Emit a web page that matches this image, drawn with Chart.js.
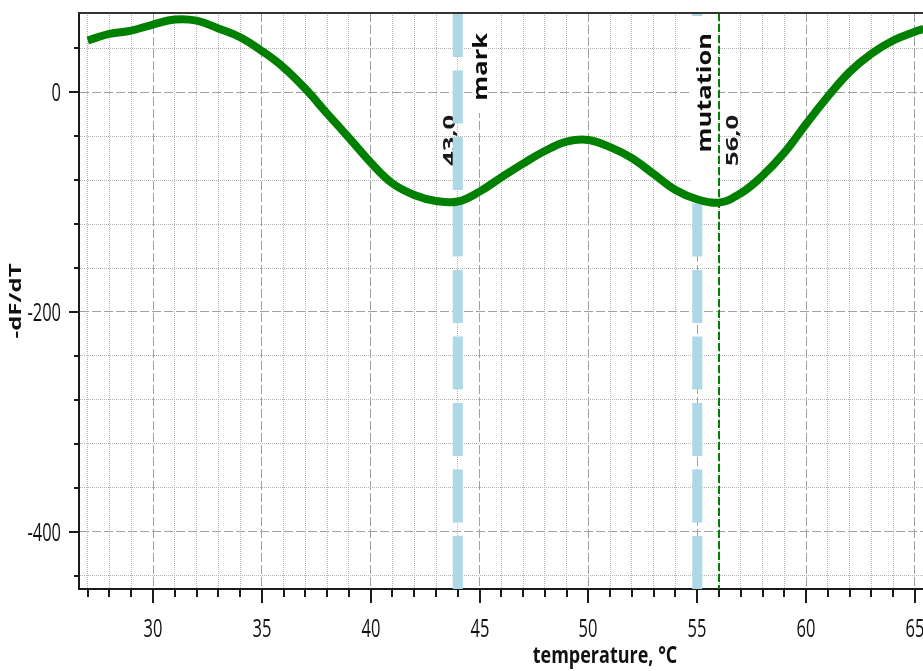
<!DOCTYPE html>
<html>
<head>
<meta charset="utf-8">
<title>Melt curve</title>
<script src="https://cdn.jsdelivr.net/npm/chart.js@4.4.1/dist/chart.umd.min.js"></script>
<style>
  html, body { margin: 0; padding: 0; background: #fff; overflow: hidden; }
  canvas { display: block; }
</style>
</head>
<body>
<canvas id="meltChart" width="923" height="671"></canvas>
<script>
// values
const temperatures = [
  27, 28, 29, 30, 31, 32, 33, 34, 35, 36, 37, 38, 39, 40, 41, 42, 43, 44, 45, 46,
  47, 48, 49, 50, 51, 52, 53, 54, 55, 56, 57, 58, 59, 60, 61, 62, 63, 64, 65, 65.4,
];
const dfdt = [
  47, 53, 56, 61.5, 66, 65, 58, 50, 37.5, 22.5, 3, -19.5, -41.5, -64, -83, -93.5, -99, -99.5, -90.5, -77.5,
  -65, -53.5, -45, -43.5, -50, -60, -74.5, -89, -97.5, -100.5, -92, -76, -55, -29, -4, 18.5, 35, 47, 55, 57.5,
];
const xMajorTicks = [30, 35, 40, 45, 50, 55, 60, 65];
const yMajorTicks = [0, -200, -400];
const markTemps = [44, 55];
const markLabels = ["mark", "mutation"];
const thresholdTemp = 56;
const valueLabels = ["43,0", "56,0"];

const FONT = '"Open Sans", "DejaVu Sans", sans-serif';
const GREEN = "#008000";
const LIGHT_BLUE = "#add8e6";

// text in the reference is stretched vertically, so draw it scaled
function stretchedText(ctx, text, x, y, o) {
  ctx.save();
  ctx.translate(x, y);
  ctx.scale(1, o.sy);
  if (o.rotate) ctx.rotate(-Math.PI / 2);
  ctx.font = o.font;
  ctx.fillStyle = o.color || "#111";
  ctx.textAlign = o.align || "left";
  ctx.textBaseline = "alphabetic";
  ctx.fillText(text, 0, 0);
  ctx.restore();
}

const annotations = {
  id: "annotations",
  beforeDatasetsDraw(chart) {
    const { ctx, chartArea: a, scales: { x } } = chart;
    ctx.save();
    ctx.beginPath();
    ctx.rect(a.left, a.top, a.right - a.left, a.bottom - a.top);
    ctx.clip();

    const p0 = x.getPixelForValue(markTemps[0]);
    const p1 = x.getPixelForValue(markTemps[1]);
    const pt = x.getPixelForValue(thresholdTemp);

    stretchedText(ctx, valueLabels[0], p0 - 3, a.top + 153, {
      font: "bold 16px " + FONT, sy: 1.6, rotate: true, color: "#1a1a1a",
    });

    // thick light blue dashed marks
    markTemps.forEach((t) => {
      const px = x.getPixelForValue(t);
      ctx.save();
      ctx.strokeStyle = LIGHT_BLUE;
      ctx.lineWidth = 10;
      ctx.setLineDash([53, 13.5]);
      ctx.beginPath();
      ctx.moveTo(px, a.bottom);
      ctx.lineTo(px, a.top);
      ctx.stroke();
      ctx.restore();
    });

    // label boxes
    ctx.fillStyle = "#fff";
    ctx.fillRect(p0 + 14, a.top, 16, 100);
    ctx.fillRect(p1 - 6, a.top + 3, 26, 180);
    const labelFont = { font: "bold 19px " + FONT, sy: 1.34, rotate: true, align: "right", color: "#0d0d0d" };
    stretchedText(ctx, markLabels[0], p0 + 29, a.top + 20, labelFont);
    stretchedText(ctx, markLabels[1], p1 + 14, a.top + 20, labelFont);

    // thin green dashed threshold
    ctx.save();
    ctx.strokeStyle = GREEN;
    ctx.lineWidth = 2;
    ctx.setLineDash([8, 3]);
    ctx.beginPath();
    ctx.moveTo(pt, a.top);
    ctx.lineTo(pt, a.bottom);
    ctx.stroke();
    ctx.restore();

    stretchedText(ctx, valueLabels[1], pt + 19, a.top + 153, {
      font: "bold 16px " + FONT, sy: 1.6, rotate: true, color: "#1a1a1a",
    });
    ctx.restore();
  },
  afterDraw(chart) {
    const { ctx, chartArea: a, scales: { x, y } } = chart;
    ctx.save();
    // top frame line
    ctx.strokeStyle = "#333";
    ctx.lineWidth = 2;
    ctx.beginPath();
    ctx.moveTo(a.left, a.top);
    ctx.lineTo(a.right, a.top);
    ctx.stroke();

    ctx.strokeStyle = "#1a1a1a";
    const tickFont = { font: "16.5px " + FONT, sy: 1.55, color: "#111" };
    x.ticks.forEach((tick) => {
      const px = Math.round(x.getPixelForValue(tick.value));
      const major = xMajorTicks.includes(tick.value);
      ctx.beginPath();
      ctx.moveTo(px, a.bottom);
      ctx.lineTo(px, a.bottom + (major ? 14 : 8));
      ctx.stroke();
      if (tick.label) stretchedText(ctx, tick.label, px, a.bottom + 48, { ...tickFont, align: "center" });
    });
    y.ticks.forEach((tick) => {
      const py = Math.round(y.getPixelForValue(tick.value));
      const major = yMajorTicks.includes(tick.value);
      ctx.beginPath();
      ctx.moveTo(a.left, py);
      ctx.lineTo(a.left - (major ? 10 : 5), py);
      ctx.stroke();
      if (tick.label) stretchedText(ctx, tick.label, a.left - 18, py + 9, { ...tickFont, align: "right" });
    });

    // axis titles
    stretchedText(ctx, "-dF/dT", 21, (a.top + a.bottom) / 2, {
      font: "bold 16px " + FONT, sy: 1.5, rotate: true, align: "center", color: "#111",
    });
    stretchedText(ctx, "temperature, °C", 605, 663, {
      font: "bold 18px " + FONT, sy: 1.33, align: "center", color: "#111",
    });
    ctx.restore();
  },
};

const isMajorX = (c) => c.tick && xMajorTicks.includes(c.tick.value);
const isMajorY = (c) => c.tick && yMajorTicks.includes(c.tick.value);

const meltCtx = document.getElementById("meltChart").getContext("2d");
const meltChart = new Chart(meltCtx, {
  type: "line",
  data: {
    labels: temperatures,
    datasets: [
      {
        label: "-dF/dT",
        data: temperatures.map((t, i) => ({ x: t, y: dfdt[i] })),
        borderColor: GREEN,
        borderWidth: 8,
        pointRadius: 0,
        tension: 0.4,
        fill: false,
      },
    ],
  },
  options: {
    responsive: false,
    devicePixelRatio: 1,
    animation: false,
    layout: { padding: { top: 13, left: 0, right: 0, bottom: 0 } },
    scales: {
      x: {
        type: "linear",
        min: 26.6,
        max: 65.37,
        afterFit(scale) { scale.height = 82; },
        ticks: {
          display: false,
          stepSize: 1,
          autoSkip: false,
          includeBounds: false,
          callback: (v) => (xMajorTicks.includes(v) ? String(v) : ""),
        },
        grid: {
          drawTicks: false,
          color: (c) => (isMajorX(c) ? "#a0a0a0" : "#b4b4b4"),
        },
        border: {
          color: "#1a1a1a",
          width: 2,
          dash: (c) => (c.tick ? (isMajorX(c) ? [9, 3] : [1, 1]) : []),
        },
      },
      y: {
        min: -452,
        max: 72,
        afterFit(scale) { scale.width = 79; },
        ticks: {
          display: false,
          stepSize: 40,
          includeBounds: false,
          callback: (v) => (yMajorTicks.includes(v) ? String(v) : ""),
        },
        grid: {
          drawTicks: false,
          color: (c) => (isMajorY(c) ? "#a0a0a0" : "#b4b4b4"),
        },
        border: {
          color: "#1a1a1a",
          width: 2,
          dash: (c) => (c.tick ? (isMajorY(c) ? [9, 3] : [1, 1]) : []),
        },
      },
    },
    plugins: {
      legend: { display: false },
      tooltip: { enabled: false },
    },
  },
  plugins: [annotations],
});
</script>
</body>
</html>
